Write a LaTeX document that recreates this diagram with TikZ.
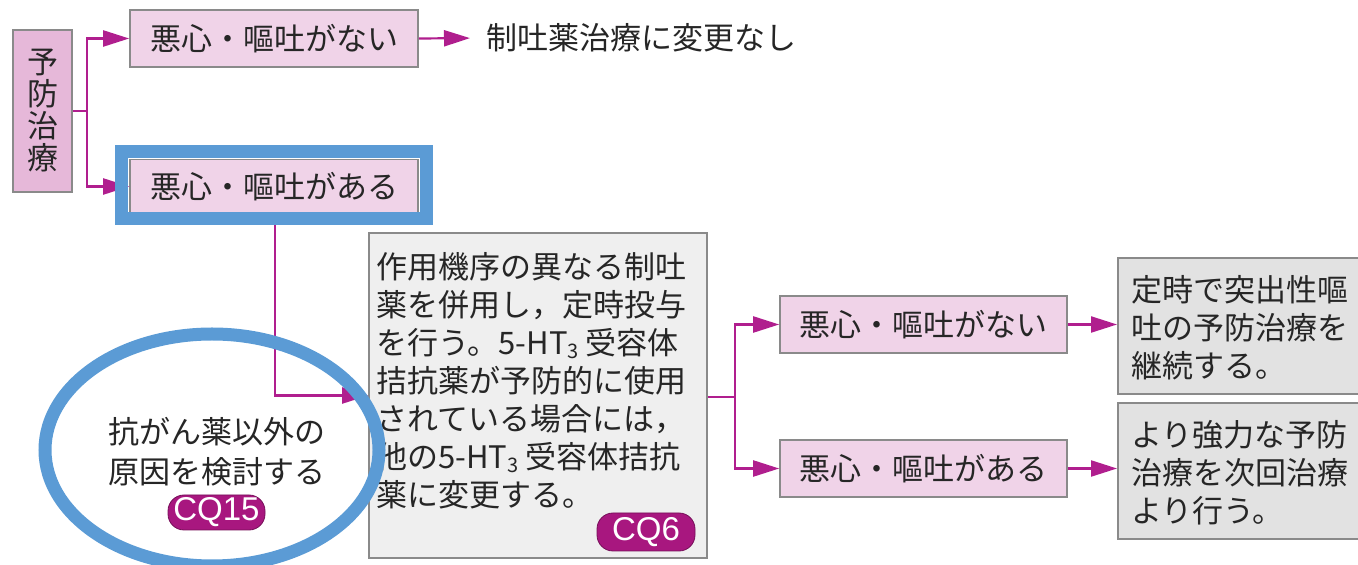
\documentclass[tikz,border=0pt]{standalone}
\usepackage{fontspec}
\newfontfamily\jp{Noto Sans CJK JP}
\setsansfont{Liberation Sans}
\usetikzlibrary{arrows.meta,shapes.geometric}
\definecolor{mag}{HTML}{B01E8E}
\definecolor{pinkfill}{HTML}{F0D3E8}
\definecolor{pinkdark}{HTML}{E6B8D9}
\definecolor{grayfill}{HTML}{EFEFEF}
\definecolor{grayfill2}{HTML}{E2E2E2}
\definecolor{bordergray}{HTML}{8A8A8A}
\definecolor{hlblue}{HTML}{5B9BD5}
\definecolor{badge}{HTML}{A8177F}
\tikzset{
  base/.style={inner sep=0pt, font=\jp\fontsize{15.5}{18.5}\selectfont, text=black!85},
  pinkbox/.style={base, draw=bordergray, line width=0.8pt, fill=pinkfill},
  graybox/.style={base, draw=bordergray, line width=0.8pt, fill=grayfill},
  graybox2/.style={base, draw=bordergray, line width=0.8pt, fill=grayfill2},
  conn/.style={draw=mag, line width=1.1pt},
  arr/.style={conn, -{Triangle[length=13pt,width=8pt]}},
  cqbadge/.style={fill=badge, text=white, rounded corners=8pt, inner sep=0pt,
    font=\sffamily\fontsize{16.5}{16.5}\selectfont, draw=badge!70!black, line width=0.4pt},
  hl/.style={draw=hlblue, line width=6.5pt},
  txt/.style={base, anchor=west, align=left},
}
\begin{document}
\begin{tikzpicture}[x=0.5pt,y=-0.5pt]
\useasboundingbox (0,0) rectangle (1358,565);
% boxes
\node[pinkbox, fill=pinkdark, minimum width=29.5pt, minimum height=81pt, align=center,
  font=\jp\fontsize{15.5}{16}\selectfont] (yobo) at (42.5,111) {予\\防\\治\\療};
\node[pinkbox, minimum width=144pt, minimum height=28.5pt] (nai1) at (274,38.5) {悪心・嘔吐がない};
\node[pinkbox, minimum width=144pt, minimum height=27pt] (aru1) at (274,186.5) {悪心・嘔吐がある};
\node[base, anchor=west] (nochange) at (486,38) {制吐薬治療に変更なし};
\node[graybox, minimum width=169pt, minimum height=162.5pt] (box3) at (538,395.5) {};
\node[txt] (b3text) at (376,381) {作用機序の異なる制吐\\[0.5pt]
薬を併用し，定時投与\\[0.5pt]
を行う。5-HT\raisebox{-0.25ex}{\fontsize{10}{10}\selectfont 3} 受容体\\[0.5pt]
拮抗薬が予防的に使用\\[0.5pt]
されている場合には，\\[0.5pt]
他の5-HT\raisebox{-0.25ex}{\fontsize{10}{10}\selectfont 3} 受容体拮抗\\[0.5pt]
薬に変更する。};
\node[cqbadge, minimum width=49pt, minimum height=19pt] (cq6) at (646,532) {CQ6};
\node[pinkbox, minimum width=143.5pt, minimum height=28.5pt] (nai2) at (923.5,324.5) {悪心・嘔吐がない};
\node[pinkbox, minimum width=143.5pt, minimum height=28.5pt] (aru2) at (923.5,468.5) {悪心・嘔吐がある};
\node[graybox2, minimum width=125pt, minimum height=68pt, anchor=north west] (res1) at (1117,257) {};
\node[txt] (res1t) at (1131,328) {定時で突出性嘔\\[0.5pt]吐の予防治療を\\[0.5pt]継続する。};
\node[graybox2, minimum width=125pt, minimum height=68pt, anchor=north west] (res2) at (1117,402) {};
\node[txt] (res2t) at (1131,473) {より強力な予防\\[0.5pt]治療を次回治療\\[0.5pt]より行う。};
% connectors
\coordinate (j1) at (87,111);
\draw[conn] (yobo.east) -- (j1);
\draw[arr] (j1) |- (nai1.west);
\draw[arr] (j1) |- (aru1.west);
\draw[arr, shorten >=8pt] (nai1.east) -- (nochange.west);
\draw[arr] (aru1.south -| 275,0) |- (box3.west);
\coordinate (j2) at (735,397);
\draw[conn] (box3.east |- j2) -- (j2);
\draw[arr] (j2) |- (nai2.west);
\draw[arr] (j2) |- (aru2.west);
\draw[arr] (nai2.east) -- (res1.west |- nai2.east);
\draw[arr] (aru2.east) -- (res2.west |- aru2.east);
% highlights
\node[hl, minimum width=152.5pt, minimum height=33.5pt, inner sep=0pt] (hlrect) at (273.5,185.5) {};
\node[hl, ellipse, minimum width=167pt, minimum height=116pt, inner sep=0pt] (ring) at (212,450) {};
\node[base, align=center, font=\jp\fontsize{15.5}{20}\selectfont] (ringtext) at (217,452) {抗がん薬以外の\\原因を検討する};
\node[cqbadge, minimum width=48.5pt, minimum height=17.5pt] (cq15) at (216.5,512.5) {CQ15};
\end{tikzpicture}
\end{document}
